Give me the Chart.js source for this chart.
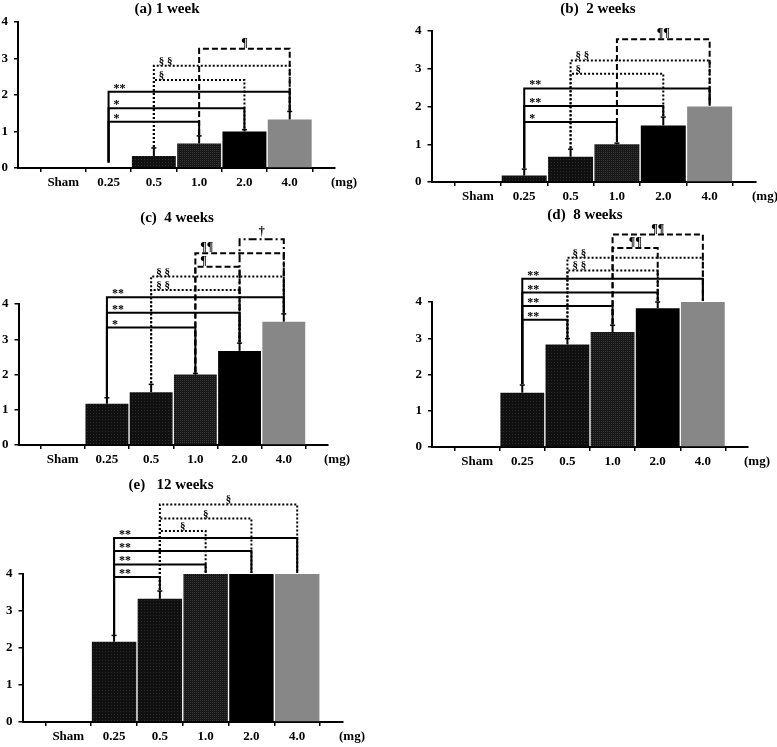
<!DOCTYPE html>
<html><head><meta charset="utf-8">
<script src="https://cdn.jsdelivr.net/npm/chart.js@4"></script>
<style>
html,body{margin:0;padding:0;background:#fff;}
body{width:777px;height:747px;position:relative;overflow:hidden;}
.p{position:absolute;}
canvas{display:block;}
</style></head><body>
<div class="p" id="pa"><canvas id="ca"></canvas></div>
<div class="p" id="pb"><canvas id="cb"></canvas></div>
<div class="p" id="pc"><canvas id="cc"></canvas></div>
<div class="p" id="pd"><canvas id="cd"></canvas></div>
<div class="p" id="pe"><canvas id="ce"></canvas></div>
<script>
// ---------- data ----------
const CATEGORIES = ['Sham', '0.25', '0.5', '1.0', '2.0', '4.0'];
const UNIT_LABEL = '(mg)';
const Y_MIN = 0, Y_MAX = 4, Y_STEP = 1;
const TITLES = ['(a) 1 week', '(b)  2 weeks', '(c)  4 weeks', '(d)  8 weeks', '(e)   12 weeks'];

const week1Values = [0, 0, 0.33, 0.67, 1.0, 1.33];
const week1Errors = [0, 0, 0.22, 0.21, 0.05, 0.22];
const week2Values = [0, 0.17, 0.67, 1.0, 1.5, 2.0];
const week2Errors = [0, 0.17, 0.2, 0.03, 0.22, 0];
const week4Values = [0, 1.17, 1.5, 2.0, 2.67, 3.5];
const week4Errors = [0, 0.17, 0.22, 0.03, 0.22, 0.22];
const week8Values = [0, 1.5, 2.83, 3.17, 3.83, 4.0];
const week8Errors = [0, 0.21, 0.16, 0.19, 0.17, 0];
const week12Values = [0, 2.17, 3.33, 4.0, 4.0, 4.0];
const week12Errors = [0, 0.17, 0.21, 0, 0, 0];

// significance brackets: [from, to, level, symbol, label anchor]
const week1Brackets = [
  ['0.25', '1.0', 1.27, '*', 'left'],
  ['0.25', '2.0', 1.64, '*', 'left'],
  ['0.25', '4.0', 2.09, '**', 'left'],
  ['0.5', '2.0', 2.41, '§', 'left'],
  ['0.5', '4.0', 2.80, '§ §', 'left'],
  ['1.0', '4.0', 3.27, '¶', 'center']
];
const week2Brackets = [
  ['0.25', '1.0', 1.59, '*', 'left'],
  ['0.25', '2.0', 2.01, '**', 'left'],
  ['0.25', '4.0', 2.48, '**', 'left'],
  ['0.5', '2.0', 2.87, '§', 'left'],
  ['0.5', '4.0', 3.22, '§ §', 'left'],
  ['1.0', '4.0', 3.78, '¶¶', 'center']
];
const week4Brackets = [
  ['0.25', '1.0', 3.33, '*', 'left'],
  ['0.25', '2.0', 3.75, '**', 'left'],
  ['0.25', '4.0', 4.19, '**', 'left'],
  ['0.5', '2.0', 4.40, '§ §', 'left'],
  ['0.5', '4.0', 4.78, '§ §', 'left'],
  ['1.0', '2.0', 5.06, '¶', 'left'],
  ['1.0', '4.0', 5.44, '¶¶', 'left'],
  ['2.0', '4.0', 5.84, '†', 'center']
];
const week8Brackets = [
  ['0.25', '0.5', 3.51, '**', 'left'],
  ['0.25', '1.0', 3.89, '**', 'left'],
  ['0.25', '2.0', 4.26, '**', 'left'],
  ['0.25', '4.0', 4.64, '**', 'left'],
  ['0.5', '2.0', 4.87, '§ §', 'left'],
  ['0.5', '4.0', 5.22, '§ §', 'left'],
  ['1.0', '2.0', 5.49, '¶¶', 'center'],
  ['1.0', '4.0', 5.86, '¶¶', 'center']
];
const week12Brackets = [
  ['0.25', '0.5', 3.92, '**', 'left'],
  ['0.25', '1.0', 4.26, '**', 'left'],
  ['0.25', '2.0', 4.62, '**', 'left'],
  ['0.25', '4.0', 4.97, '**', 'left'],
  ['0.5', '1.0', 5.16, '§', 'center'],
  ['0.5', '2.0', 5.50, '§', 'center'],
  ['0.5', '4.0', 5.88, '§', 'center']
];

// ---------- presentation ----------
const FONT = '"Liberation Serif", "Times New Roman", serif';
const LINE_DASH = {'*': [], '§': [2, 2], '¶': [6, 3], '†': [8, 3, 2, 3]};
const LABEL_FONT = {'*': 12, '§': 11, '¶': 12, '†': 12};
const LABEL_RISE = {'*': 0, '§': 2, '¶': 3, '†': 4};

function makePattern(base, dot, step) {
  const c = document.createElement('canvas');
  c.width = step; c.height = step;
  const g = c.getContext('2d');
  g.fillStyle = base; g.fillRect(0, 0, step, step);
  g.fillStyle = dot; g.fillRect(0, 0, 1, 1);
  return g.createPattern(c, 'repeat');
}
const P1 = makePattern('#101010', '#2c2c2c', 3);
const P2 = makePattern('#181818', '#363636', 2);
const BAR_COLORS = ['#000', P1, P1, P2, '#000', '#878787'];

// panel geometry (page pixels)
const PANELS = [
  {id: 'a', cx: 0,   cy: 0,   cw: 380, axisL: 18,  y4: 22,  y0: 168, right: 335, tx: 167, ty: 9},
  {id: 'b', cx: 395, cy: 0,   cw: 382, axisL: 431.5, y4: 31, y0: 181.5, right: 756, tx: 598, ty: 9},
  {id: 'c', cx: 0,   cy: 206, cw: 380, axisL: 18.5, y4: 304, y0: 445, right: 328, tx: 177, ty: 218},
  {id: 'd', cx: 395, cy: 203, cw: 382, axisL: 432, y4: 302, y0: 447, right: 748, tx: 585, ty: 215},
  {id: 'e', cx: 0,   cy: 474, cw: 380, axisL: 22.5, y4: 574, y0: 722, right: 343, tx: 171, ty: 485}
];
const X_AXIS_H = 24;

function makeChart(g, title, values, errors, brackets) {
  const ch = Math.round(g.y0 - g.cy + X_AXIS_H);
  const div = document.getElementById('p' + g.id);
  div.style.left = g.cx + 'px'; div.style.top = g.cy + 'px';
  div.style.width = g.cw + 'px'; div.style.height = ch + 'px';
  const canvas = document.getElementById('c' + g.id);
  canvas.width = g.cw; canvas.height = ch;
  canvas.style.width = g.cw + 'px'; canvas.style.height = ch + 'px';

  const labels = [''].concat(CATEGORIES, ['']);
  const data = [null].concat(values, [null]);
  const colors = ['#000'].concat(BAR_COLORS, ['#000']);

  const annot = {
    id: 'annot' + g.id,
    afterDatasetsDraw(chart) {
      const {ctx, scales: {x, y}} = chart;
      const px = c => x.getPixelForValue(CATEGORIES.indexOf(c) + 1);
      const legBase = c => {
        const i = CATEGORIES.indexOf(c);
        return y.getPixelForValue(Math.max(values[i] + errors[i], 0.12)) - 1;
      };
      ctx.save();
      ctx.strokeStyle = '#000';
      for (let i = 0; i < values.length; i++) {
        if (!errors[i]) continue;
        const xp = x.getPixelForValue(i + 1);
        const yb = y.getPixelForValue(values[i]);
        const yt = y.getPixelForValue(values[i] + errors[i]);
        ctx.lineWidth = 2;
        ctx.beginPath(); ctx.moveTo(xp, yb); ctx.lineTo(xp, yt); ctx.stroke();
        ctx.lineWidth = 1.5;
        ctx.beginPath(); ctx.moveTo(xp - 2.5, yt); ctx.lineTo(xp + 2.5, yt); ctx.stroke();
      }
      brackets.forEach(([from, to, level, sym, anchor]) => {
        const x1 = px(from), x2 = px(to), yh = y.getPixelForValue(level);
        const key = sym.charAt(0);
        ctx.setLineDash(LINE_DASH[key]);
        ctx.lineWidth = 2;
        ctx.strokeStyle = '#000';
        ctx.beginPath();
        ctx.moveTo(x1, legBase(from)); ctx.lineTo(x1, yh);
        ctx.lineTo(x2, yh); ctx.lineTo(x2, legBase(to));
        ctx.stroke();
        ctx.setLineDash([]);
        ctx.fillStyle = '#000';
        ctx.font = 'bold ' + LABEL_FONT[key] + 'px ' + FONT;
        ctx.textBaseline = 'alphabetic';
        if (anchor === 'left') { ctx.textAlign = 'left'; ctx.fillText(sym, x1 + 5, yh - LABEL_RISE[key]); }
        else { ctx.textAlign = 'center'; ctx.fillText(sym, (x1 + x2) / 2, yh - LABEL_RISE[key]); }
      });
      ctx.restore();
    },
    afterDraw(chart) {
      const {ctx, chartArea} = chart;
      ctx.save();
      ctx.fillStyle = '#000';
      ctx.textAlign = 'center'; ctx.textBaseline = 'middle';
      ctx.font = 'bold 15px ' + FONT;
      ctx.fillText(title, g.tx - g.cx, g.ty - g.cy);
      ctx.font = 'bold 13px ' + FONT;
      ctx.fillText(UNIT_LABEL, chartArea.right + 9, chartArea.bottom + 15);
      ctx.restore();
    }
  };

  return new Chart(canvas, {
    type: 'bar',
    data: {labels, datasets: [{data, backgroundColor: colors, borderWidth: 0, barPercentage: 0.97, categoryPercentage: 1}]},
    options: {
      responsive: false,
      animation: false,
      events: [],
      layout: {padding: {left: 0, top: g.y4 - g.cy, right: g.cw - (g.right - g.cx), bottom: 0}},
      plugins: {legend: {display: false}, tooltip: {enabled: false}, title: {display: false}},
      scales: {
        x: {
          type: 'category', offset: false, z: 1,
          grid: {display: true, drawOnChartArea: false, drawTicks: true, tickLength: 4, color: '#000', lineWidth: 1.5},
          border: {display: true, color: '#000', width: 2},
          ticks: {autoSkip: false, maxRotation: 0, minRotation: 0, padding: 3, color: '#000', font: {family: FONT, size: 13, weight: 'bold'}},
          afterFit(s) { s.height = X_AXIS_H; }
        },
        y: {
          min: Y_MIN, max: Y_MAX, z: 1,
          ticks: {stepSize: Y_STEP, padding: 6, color: '#000', font: {family: FONT, size: 13, weight: 'bold'}},
          grid: {display: true, drawOnChartArea: false, drawTicks: true, tickLength: 4, color: '#000', lineWidth: 1.5},
          border: {display: true, color: '#000', width: 2},
          afterFit(s) { s.width = g.axisL - g.cx; }
        }
      }
    },
    plugins: [annot]
  });
}

makeChart(PANELS[0], TITLES[0], week1Values, week1Errors, week1Brackets);
makeChart(PANELS[1], TITLES[1], week2Values, week2Errors, week2Brackets);
makeChart(PANELS[2], TITLES[2], week4Values, week4Errors, week4Brackets);
makeChart(PANELS[3], TITLES[3], week8Values, week8Errors, week8Brackets);
makeChart(PANELS[4], TITLES[4], week12Values, week12Errors, week12Brackets);
</script>
</body></html>
